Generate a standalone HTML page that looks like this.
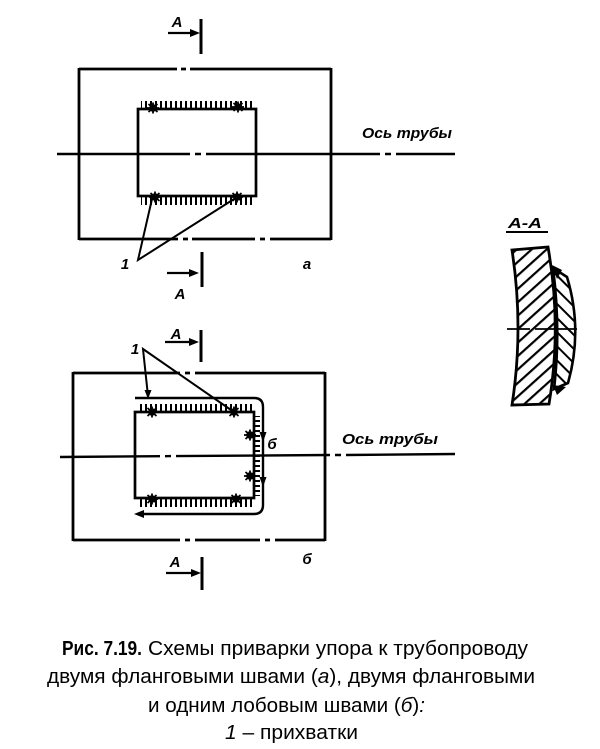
<!DOCTYPE html>
<html><head><meta charset="utf-8"><style>
html,body{margin:0;padding:0;background:#fff;}
svg{display:block;}
.d{font-family:"Liberation Sans",sans-serif;font-style:italic;font-weight:bold;font-size:15px;fill:#000;}
.c{font-family:"Liberation Sans",sans-serif;font-size:20px;fill:#000;}
</style></head><body>
<svg width="600" height="749" viewBox="0 0 600 749" xmlns="http://www.w3.org/2000/svg">
<defs>
<pattern id="vt" width="5" height="10" patternUnits="userSpaceOnUse"><rect x="0" y="0" width="2" height="10" fill="#000"/></pattern>
<pattern id="ht" width="10" height="5" patternUnits="userSpaceOnUse"><rect x="0" y="0" width="10" height="2" fill="#000"/></pattern>
<pattern id="h1" width="10" height="10" patternUnits="userSpaceOnUse" patternTransform="rotate(-42)"><rect x="0" y="0" width="10" height="2.2" fill="#000"/></pattern>
<pattern id="h2" width="10" height="10" patternUnits="userSpaceOnUse" patternTransform="rotate(45)"><rect x="0" y="0" width="10" height="2" fill="#000"/></pattern>
<g id="tack"><circle r="3.8" fill="#000"/><path d="M-6,0H6M0,-5.5V5.5M-4.5,-4L4.5,4M-4.5,4L4.5,-4" stroke="#000" stroke-width="1.8"/></g>
</defs>

<g stroke="#000" fill="none" stroke-linecap="butt">
<!-- ===== Fig a ===== -->
<line x1="168" y1="33" x2="194" y2="33" stroke-width="2.3"/>
<line x1="201" y1="19" x2="201" y2="54" stroke-width="3"/>
<path d="M79,69H177M181,69H186M190,69H331M79,68V240M331,68V240M79,239H178M183,239H188M192,239H255M260,239H265M270,239H331" stroke-width="2.8"/>
<rect x="138" y="109" width="118" height="87" stroke-width="2.7"/>
<path d="M57,154H190M195,154H201M206,154H380M385,154H391M396,154H455" stroke-width="2.4"/>
<polyline points="152,199 138,260 234,199" stroke-width="2"/>
<line x1="167" y1="273" x2="193" y2="273" stroke-width="2.3"/>
<line x1="202" y1="252" x2="202" y2="287" stroke-width="3"/>

<!-- ===== Fig b ===== -->
<line x1="165" y1="342" x2="193" y2="342" stroke-width="2.3"/>
<line x1="201" y1="330" x2="201" y2="362" stroke-width="3"/>
<path d="M73,373H180M185,373H190M195,373H325M73,372V541M325,372V541M73,540H180M185,540H190M195,540H260M265,540H270M275,540H325" stroke-width="2.8"/>
<rect x="135" y="412" width="119" height="86" stroke-width="2.7"/>
<path d="M60,457L160,456.2M165,456.2L171,456.1M176,456.1L330,455M335,455L341,455M346,455L455,454" stroke-width="2.4"/>
<path d="M135,398H254Q263,398 263,407V505Q263,514 254,514H140" stroke-width="2.4"/>
<polyline points="148,396 143,349 231,410" stroke-width="2"/>
<line x1="166" y1="573" x2="195" y2="573" stroke-width="2.3"/>
<line x1="202" y1="557" x2="202" y2="590" stroke-width="3"/>

<!-- ===== Section A-A ===== -->
<line x1="506" y1="232" x2="548" y2="232" stroke-width="2"/>
<path d="M512,250L548,247Q562,326 549,404L512,405Q524,328 512,250Z" fill="url(#h1)" stroke-width="2.8"/>
<path d="M553,268L567,277Q583,330 568,383L554,389Q561,330 553,268Z" fill="url(#h2)" stroke-width="2.6"/>
<path d="M507,329H530M535,329H577" stroke-width="1.8"/>
</g>

<!-- ticks -->
<rect x="141" y="101" width="114" height="8" fill="url(#vt)"/>
<rect x="141" y="197" width="114" height="8" fill="url(#vt)"/>
<rect x="139" y="404" width="113" height="8" fill="url(#vt)"/>
<rect x="139" y="499" width="113" height="8" fill="url(#vt)"/>
<rect x="255" y="416" width="5" height="80" fill="url(#ht)"/>

<!-- tacks -->
<use href="#tack" x="153" y="108"/>
<use href="#tack" x="238" y="107"/>
<use href="#tack" x="155" y="197"/>
<use href="#tack" x="237" y="197"/>
<use href="#tack" x="152" y="412"/>
<use href="#tack" x="234" y="412"/>
<use href="#tack" x="250" y="435"/>
<use href="#tack" x="250" y="476"/>
<use href="#tack" x="152" y="499"/>
<use href="#tack" x="236" y="499"/>

<!-- arrowheads -->
<g fill="#000">
<polygon points="200,33 190,29 190,37"/>
<polygon points="199,273 189,269 189,277"/>
<polygon points="199,342 189,338 189,346"/>
<polygon points="201,573 191,569 191,577"/>
<polygon points="134,514 144,510 144,518"/>
<polygon points="263,442 259.5,432 266.5,432"/>
<polygon points="263,487 259.5,477 266.5,477"/>
<polygon points="148,399 144.5,390 151.5,390"/>
<polygon points="552,265 562,270 557,279"/>
<polygon points="553,385 566,387 557,395"/>
</g>

<!-- drawing labels -->
<text class="d" x="177" y="27" text-anchor="middle" font-size="16">A</text>
<text class="d" x="180" y="299" text-anchor="middle" font-size="16">A</text>
<text class="d" x="125" y="269" text-anchor="middle" font-size="16">1</text>
<text class="d" x="307" y="269" text-anchor="middle" font-size="16">а</text>
<text class="d" x="362" y="138" textLength="90" lengthAdjust="spacingAndGlyphs">Ось трубы</text>
<text class="d" x="176" y="339" text-anchor="middle" font-size="16">A</text>
<text class="d" x="135" y="354" text-anchor="middle" font-size="16">1</text>
<text class="d" x="272" y="449" text-anchor="middle" font-size="16">б</text>
<text class="d" x="342" y="444" textLength="96" lengthAdjust="spacingAndGlyphs">Ось трубы</text>
<text class="d" x="307" y="564" text-anchor="middle" font-size="16">б</text>
<text class="d" x="175" y="567" text-anchor="middle" font-size="16">A</text>
<text class="d" x="525" y="228" text-anchor="middle" textLength="34" lengthAdjust="spacingAndGlyphs">A-A</text>

<!-- caption -->
<text class="c" x="62" y="655" font-weight="bold" textLength="80" lengthAdjust="spacingAndGlyphs">Рис. 7.19.</text>
<text class="c" x="148" y="655" textLength="380" lengthAdjust="spacingAndGlyphs">Схемы приварки упора к трубопроводу</text>
<text class="c" x="47" y="683" textLength="488" lengthAdjust="spacingAndGlyphs">двумя фланговыми швами (<tspan font-style="italic">а</tspan>), двумя фланговыми</text>
<text class="c" x="148" y="712" textLength="277" lengthAdjust="spacingAndGlyphs">и одним лобовым швами (<tspan font-style="italic">б</tspan>)<tspan font-style="italic">:</tspan></text>
<text class="c" x="225" y="739" textLength="133" lengthAdjust="spacingAndGlyphs"><tspan font-style="italic">1</tspan> – прихватки</text>
</svg>
</body></html>
